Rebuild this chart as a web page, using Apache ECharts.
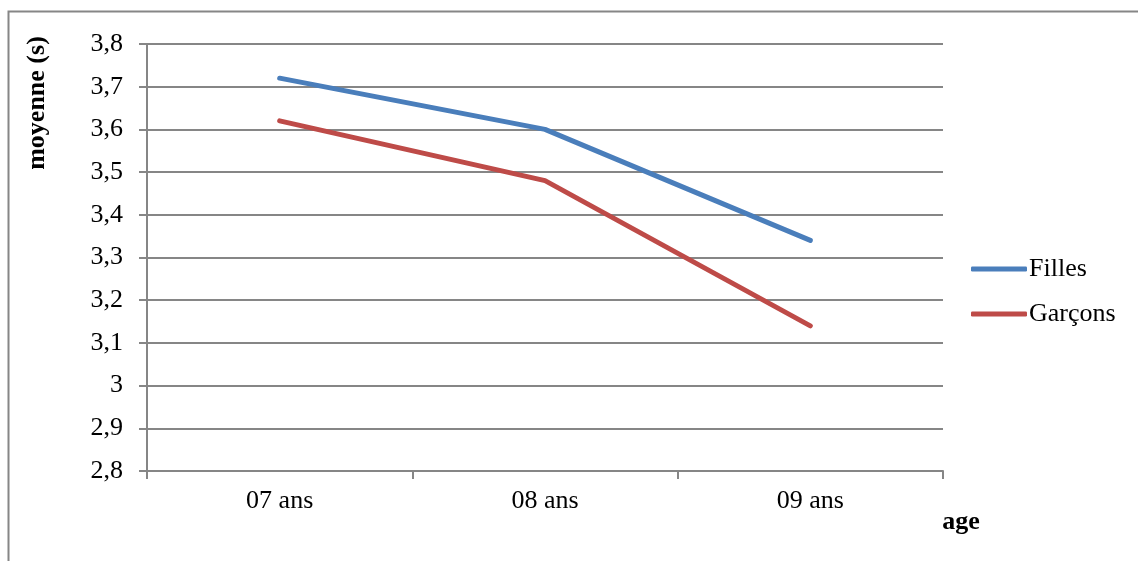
<!DOCTYPE html>
<html>
<head>
<meta charset="utf-8">
<script src="https://cdn.jsdelivr.net/npm/echarts@6/dist/echarts.min.js"></script>
<style>
  html, body { margin: 0; padding: 0; background: #fff; }
  #chart { width: 1138px; height: 561px; }
</style>
</head>
<body>
<div id="chart"></div>
<script>
// Mean time (seconds) by age group
const categories = ['07 ans', '08 ans', '09 ans'];
const filles = [3.72, 3.60, 3.34];
const garcons = [3.62, 3.48, 3.14];
const seriesNames = ['Filles', 'Garçons'];
const yAxisTitle = 'moyenne (s)';
const xAxisTitle = 'age';

const FONT = '"Liberation Serif", "Times New Roman", serif';
const AXIS_GREY = '#868686';

const chart = echarts.init(document.getElementById('chart'));

chart.setOption({
  animation: false,
  backgroundColor: '#ffffff',
  textStyle: { fontFamily: FONT, color: '#000' },
  grid: { left: 147, right: 195, top: 44, bottom: 90 },
  legend: {
    orient: 'vertical',
    left: 966,
    top: 251,
    itemWidth: 56,
    itemHeight: 5,
    itemGap: 19,
    icon: 'roundRect',
    textStyle: { fontFamily: FONT, fontSize: 26, color: '#000', padding: [0, 0, 0, -3] },
    data: seriesNames
  },
  xAxis: {
    type: 'category',
    data: categories,
    boundaryGap: true,
    axisLine: { lineStyle: { color: AXIS_GREY, width: 2 } },
    axisTick: { show: true, length: 8, lineStyle: { color: AXIS_GREY, width: 2 } },
    axisLabel: { margin: 17, fontFamily: FONT, fontSize: 26, color: '#000' },
    splitLine: { show: false }
  },
  yAxis: {
    type: 'value',
    min: 2.8,
    max: 3.8,
    interval: 0.1,
    axisLine: { show: true, lineStyle: { color: AXIS_GREY, width: 2 } },
    axisTick: { show: true, length: 8, lineStyle: { color: AXIS_GREY, width: 2 } },
    axisLabel: {
      margin: 24,
      fontFamily: FONT,
      fontSize: 26,
      color: '#000',
      formatter: function (v) {
        const r = Math.round(v * 10) / 10;
        return (Number.isInteger(r) ? String(r) : r.toFixed(1)).replace('.', ',');
      }
    },
    splitLine: { show: true, lineStyle: { color: AXIS_GREY, width: 2 } }
  },
  series: [
    {
      name: seriesNames[0],
      type: 'line',
      data: filles,
      color: '#4a7ebb',
      symbol: 'none',
      lineStyle: { width: 5, cap: 'round', join: 'round' }
    },
    {
      name: seriesNames[1],
      type: 'line',
      data: garcons,
      color: '#be4b48',
      symbol: 'none',
      lineStyle: { width: 5, cap: 'round', join: 'round' }
    }
  ],
  graphic: [
    {
      type: 'rect',
      silent: true,
      shape: { x: 8.5, y: 11.5, width: 1300, height: 700 },
      style: { fill: 'none', stroke: AXIS_GREY, lineWidth: 2 }
    },
    {
      type: 'text',
      x: 37,
      y: 103,
      rotation: Math.PI / 2,
      style: {
        text: yAxisTitle,
        fontFamily: FONT,
        fontSize: 26,
        fontWeight: 'bold',
        fill: '#000',
        align: 'center',
        verticalAlign: 'middle'
      }
    },
    {
      type: 'text',
      x: 961,
      y: 522,
      style: {
        text: xAxisTitle,
        fontFamily: FONT,
        fontSize: 26,
        fontWeight: 'bold',
        fill: '#000',
        align: 'center',
        verticalAlign: 'middle'
      }
    }
  ]
});
</script>
</body>
</html>
